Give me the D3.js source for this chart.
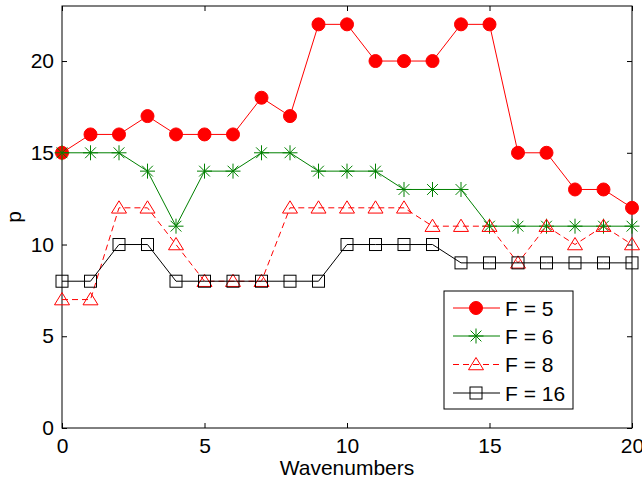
<!DOCTYPE html>
<html><head><meta charset="utf-8">
<script src="https://cdn.jsdelivr.net/npm/d3@7"></script>
<style>body{margin:0;background:#fff;} text{font-family:"Liberation Sans",Arial,sans-serif;}</style>
</head><body>
<svg id="c" width="642" height="481"></svg>
<script>
const wavenumbers = d3.range(0, 21);
const f5  = [15,16,16,17,16,16,16,18,17,22,22,20,20,20,22,22,15,15,13,13,12];
const f6  = [15,15,15,14,11,14,14,15,15,14,14,14,13,13,13,11,11,11,11,11,11];
const f8  = [7,7,12,12,10,8,8,8,12,12,12,12,12,11,11,11,9,11,10,11,10];
const f16 = [8,8,10,10,8,8,8,8,8,8,10,10,10,10,9,9,9,9,9,9,9];
const xTicks = [0,5,10,15,20];
const yTicks = [0,5,10,15,20];
const seriesNames = ["F = 5","F = 6","F = 8","F = 16"];

const series = [
  {name: seriesNames[0], values: f5,  color: "#ff0000", dash: null, marker: "circle"},
  {name: seriesNames[1], values: f6,  color: "#008000", dash: null, marker: "star"},
  {name: seriesNames[2], values: f8,  color: "#ff0000", dash: "6,4", marker: "tri"},
  {name: seriesNames[3], values: f16, color: "#000000", dash: null, marker: "square"}
];

const svg = d3.select("#c");
const L = 62, R = 632, T = 6, B = 428;
const x = d3.scaleLinear().domain([0,20]).range([L,R]);
const y = d3.scaleLinear().domain([0,23]).range([B,T]);

// axes box
svg.append("rect").attr("x",L).attr("y",T).attr("width",R-L).attr("height",B-T)
  .attr("fill","none").attr("stroke","#000").attr("stroke-width",1);

const tickLen = 5;
const fs = 21;
const xAxis = d3.axisBottom(x).tickValues(xTicks).tickSize(-tickLen).tickPadding(10).tickFormat(d3.format("d"));
const gx = svg.append("g").attr("transform",`translate(0,${B})`).call(xAxis);
gx.select(".domain").remove();
gx.selectAll("text").attr("font-size",fs).attr("fill","#000").attr("font-family","Liberation Sans, Arial, sans-serif");
const gxt = svg.append("g").attr("transform",`translate(0,${T})`).call(d3.axisTop(x).tickValues(xTicks).tickSize(-tickLen).tickFormat(""));
gxt.select(".domain").remove();

const yAxis = d3.axisLeft(y).tickValues(yTicks).tickSize(-tickLen).tickPadding(8).tickFormat(d3.format("d"));
const gy = svg.append("g").attr("transform",`translate(${L},0)`).call(yAxis);
gy.select(".domain").remove();
gy.selectAll("text").attr("font-size",fs).attr("fill","#000").attr("font-family","Liberation Sans, Arial, sans-serif");
const gyr = svg.append("g").attr("transform",`translate(${R},0)`).call(d3.axisRight(y).tickValues(yTicks).tickSize(-tickLen).tickFormat(""));
gyr.select(".domain").remove();

svg.append("text").attr("x",(L+R)/2).attr("y",475).attr("text-anchor","middle")
  .attr("font-size",fs).text("Wavenumbers");
svg.append("text").attr("transform",`translate(21,${(T+B)/2}) rotate(-90)`).attr("text-anchor","middle")
  .attr("font-size",fs).text("p");

function drawMarker(g, type, cx, cy, color){
  if(type==="circle"){
    g.append("circle").attr("cx",cx).attr("cy",cy).attr("r",6.5).attr("fill",color).attr("stroke",color);
  } else if(type==="star"){
    const r = 7.5, d = r*0.72;
    const p = `M${cx-r},${cy}L${cx+r},${cy}M${cx},${cy-r}L${cx},${cy+r}M${cx-d},${cy-d}L${cx+d},${cy+d}M${cx-d},${cy+d}L${cx+d},${cy-d}`;
    g.append("path").attr("d",p).attr("stroke",color).attr("stroke-width",1).attr("fill","none");
  } else if(type==="tri"){
    const h = 7;
    const p = `M${cx},${cy-h}L${cx+h+0.5},${cy+h*0.75}L${cx-h-0.5},${cy+h*0.75}Z`;
    g.append("path").attr("d",p).attr("stroke",color).attr("stroke-width",1).attr("fill","none");
  } else if(type==="square"){
    const s = 6;
    g.append("rect").attr("x",cx-s).attr("y",cy-s).attr("width",2*s).attr("height",2*s)
      .attr("stroke",color).attr("stroke-width",1).attr("fill","none");
  }
}

const line = d3.line().x((d,i)=>x(wavenumbers[i])).y(d=>y(d));
series.forEach(s=>{
  const g = svg.append("g");
  g.append("path").attr("d",line(s.values)).attr("fill","none").attr("stroke",s.color)
    .attr("stroke-width",1).attr("stroke-dasharray",s.dash);
  s.values.forEach((v,i)=>drawMarker(g,s.marker,x(wavenumbers[i]),y(v),s.color));
});

// legend
const lg = svg.append("g");
lg.append("rect").attr("x",444).attr("y",291).attr("width",129).attr("height",118)
  .attr("fill","#fff").attr("stroke","#000").attr("stroke-width",1);
const ly = [308,336,364.5,393];
series.forEach((s,i)=>{
  lg.append("line").attr("x1",453).attr("x2",500).attr("y1",ly[i]).attr("y2",ly[i])
    .attr("stroke",s.color).attr("stroke-width",1).attr("stroke-dasharray",s.dash);
  drawMarker(lg,s.marker,476,ly[i],s.color);
  lg.append("text").attr("x",505).attr("y",ly[i]+7.5).attr("font-size",fs).text(s.name);
});
</script>
</body></html>
